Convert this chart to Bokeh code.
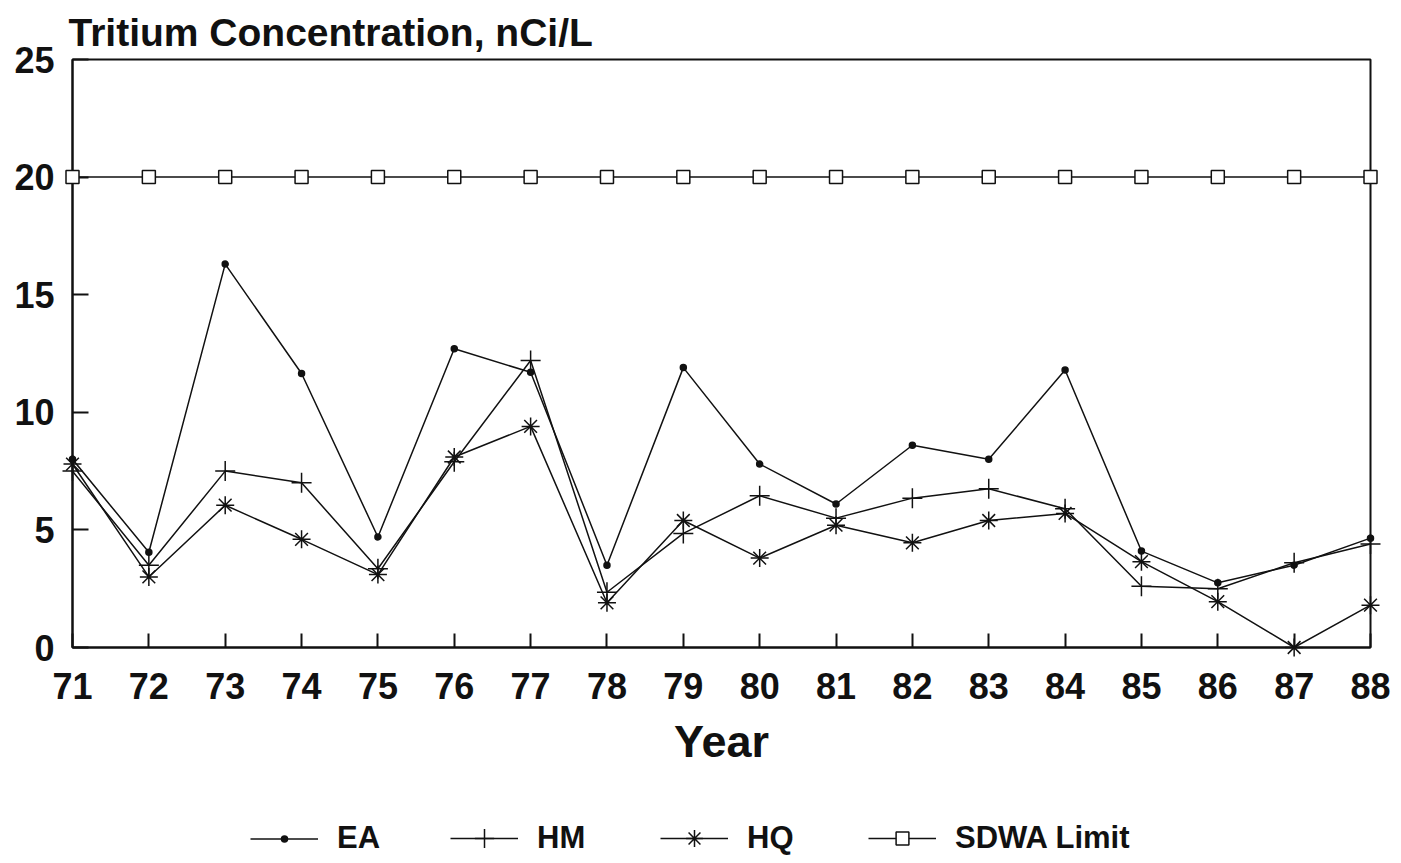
from bokeh.plotting import figure
from bokeh.models import Legend, LegendItem, FixedTicker, Range1d
from bokeh.layouts import column
from bokeh.embed import file_html
from bokeh.resources import INLINE

years = [71, 72, 73, 74, 75, 76, 77, 78, 79, 80, 81, 82, 83, 84, 85, 86, 87, 88]
ea = [8.0, 4.05, 16.3, 11.65, 4.7, 12.7, 11.7, 3.5, 11.9, 7.8, 6.1, 8.6, 8.0, 11.8, 4.1, 2.75, 3.5, 4.65]
hm = [7.5, 3.5, 7.5, 7.0, 3.35, 7.9, 12.2, 2.35, 4.85, 6.45, 5.5, 6.35, 6.75, 5.9, 2.6, 2.5, 3.6, 4.4]
hq = [7.8, 3.0, 6.05, 4.6, 3.1, 8.1, 9.4, 1.9, 5.4, 3.8, 5.2, 4.45, 5.4, 5.7, 3.65, 1.95, 0.0, 1.8]
sdwa = [20, 20, 20, 20, 20, 20, 20, 20, 20, 20, 20, 20, 20, 20, 20, 20, 20, 20]
y_ticks = [0, 5, 10, 15, 20, 25]
series_names = ["EA", "HM", "HQ", "SDWA Limit"]

FONT = "Liberation Sans"
INK = "#111111"

p = figure(frame_width=1298, frame_height=588,
           min_border_left=72, min_border_top=59, min_border_right=25, min_border_bottom=140,
           x_range=Range1d(71, 88), y_range=Range1d(0, 25),
           output_backend="svg", toolbar_location=None, tools="")

p.title.text = "Tritium Concentration, nCi/L"
p.title.align = "left"
p.title.offset = -4
p.title.standoff = 12
p.title.text_font = FONT
p.title.text_font_style = "bold"
p.title.text_font_size = "39px"
p.title.text_color = INK

p.grid.visible = False
p.outline_line_color = INK
p.outline_line_width = 2
p.background_fill_color = "white"
p.border_fill_color = "white"

for ax in (p.xaxis[0], p.yaxis[0]):
    ax.axis_line_color = INK
    ax.axis_line_width = 2
    ax.major_tick_line_color = INK
    ax.major_tick_line_width = 2
    ax.major_tick_out = 0
    ax.minor_tick_line_color = None
    ax.major_label_text_font = FONT
    ax.major_label_text_font_style = "bold"
    ax.major_label_text_color = INK
    ax.major_label_text_font_size = "36px"

p.xaxis.ticker = FixedTicker(ticks=years)
p.xaxis.major_tick_in = 14
p.xaxis.major_label_standoff = 25
p.xaxis.axis_label = "Year"
p.xaxis.axis_label_text_font = FONT
p.xaxis.axis_label_text_font_style = "bold"
p.xaxis.axis_label_text_font_size = "45px"
p.xaxis.axis_label_text_color = INK
p.xaxis.axis_label_standoff = 14

p.yaxis.ticker = FixedTicker(ticks=y_ticks)
p.yaxis.major_tick_in = 16
p.yaxis.major_label_standoff = 18

lw = 1.5
styles = [
    dict(marker="circle", size=6, fill_color=INK),
    dict(marker="cross", size=20),
    dict(marker="asterisk", size=18),
    dict(marker="square", size=13, fill_color="white"),
]
data = [ea, hm, hq, sdwa]
for vals, st in zip(data, styles):
    p.line(years, vals, line_color=INK, line_width=lw)
    p.scatter(years, vals, line_color=INK, line_width=1.5, level="overlay", **st)

# legend strip below the chart (its renderers hold the same series, kept out of view)
q = figure(frame_width=1395, frame_height=70, min_border=0,
           x_range=Range1d(0, 1), y_range=Range1d(-100, -99),
           x_axis_location=None, y_axis_location=None,
           output_backend="svg", toolbar_location=None, tools="")
q.grid.visible = False
q.outline_line_color = None
q.background_fill_color = "white"
q.border_fill_color = "white"

# legend marker size is 0.4 x glyph height; one legend per entry to match marker sizes
glyph_heights = [15, 48, 42, 32]
legend_x = [250, 450, 660, 868]
center_from_bottom = 19
for name, vals, st, gh, lx in zip(series_names, data, styles, glyph_heights, legend_x):
    rl = q.line(years, vals, line_color=INK, line_width=lw)
    rm = q.scatter(years, vals, line_color=INK, line_width=1.5, **st)
    h = max(gh, 36)
    lg = Legend(items=[LegendItem(label=name, renderers=[rl, rm])], orientation="horizontal",
                location=(lx, center_from_bottom - h / 2),
                glyph_width=68, glyph_height=gh, label_height=36, label_standoff=19,
                padding=0, margin=0,
                label_text_font=FONT, label_text_font_style="bold", label_text_font_size="31px",
                label_text_color=INK, border_line_alpha=0, background_fill_alpha=0)
    q.add_layout(lg, "center")

layout = column(p, q, spacing=0)
open("out.html", "w").write(file_html(layout, INLINE))
